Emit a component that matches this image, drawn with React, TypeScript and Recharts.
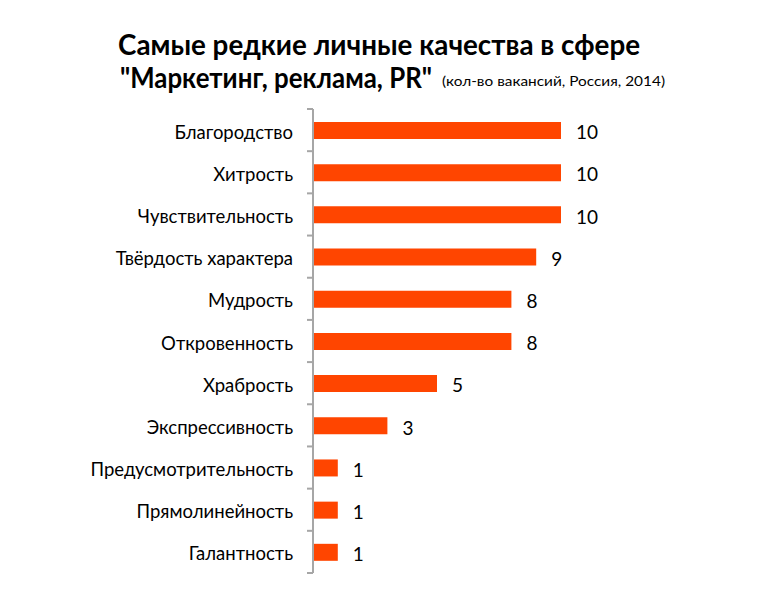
import { BarChart, Bar, XAxis, YAxis, LabelList } from 'recharts';

// categories, top to bottom
const qualities = [
  'Благородство',
  'Хитрость',
  'Чувствительность',
  'Твёрдость характера',
  'Мудрость',
  'Откровенность',
  'Храбрость',
  'Экспрессивность',
  'Предусмотрительность',
  'Прямолинейность',
  'Галантность',
];
const vacancies = [10, 10, 10, 9, 8, 8, 5, 3, 1, 1, 1];

const titleLine1 = 'Самые редкие личные качества в сфере';
const titleLine2 = '"Маркетинг, реклама, PR"';
const subtitle = '(кол-во вакансий, Россия, 2014)';

const data = qualities.map((name, i) => ({ name, value: vacancies[i] }));

const W = 761;
const H = 602;
const TOP = 109;
const BOTTOM = 29;
const FONT = 'Lato, "Open Sans", sans-serif';
const band = (H - TOP - BOTTOM) / qualities.length;

// category label plus the small tick at the band edges
const CategoryTick = ({ x, y, payload, index }: any) => (
  <g>
    <text x={x - 20} y={y} dy={8.5} textAnchor="end" fontSize={18.5} fill="#000" fontFamily={FONT}>
      {payload.value}
    </text>
    {index === 0 && (
      <line x1={x - 6} x2={x} y1={y - band / 2} y2={y - band / 2} stroke="#a6a6a6" strokeWidth={2} />
    )}
    <line x1={x - 6} x2={x} y1={y + band / 2} y2={y + band / 2} stroke="#a6a6a6" strokeWidth={2} />
  </g>
);

export default function App() {
  return (
    <div style={{ position: 'absolute', left: 0, top: 0, width: W, height: H, background: '#fff' }}>
      <svg width={W} height={100} style={{ position: 'absolute', left: 0, top: 0 }}>
        <text x={118} y={55} fontSize={28} fontWeight="bold" fontFamily={FONT} textLength={522} lengthAdjust="spacingAndGlyphs">
          {titleLine1}
        </text>
        <text x={120} y={88} fontSize={28} fontWeight="bold" fontFamily={FONT} textLength={312} lengthAdjust="spacingAndGlyphs">
          {titleLine2}
        </text>
        <text x={442} y={86} fontSize={14} fontFamily={FONT} textLength={223} lengthAdjust="spacingAndGlyphs">
          {subtitle}
        </text>
      </svg>
      <div style={{ position: 'absolute', left: 0, top: 0 }}>
        <BarChart
          width={W}
          height={H}
          data={data}
          layout="vertical"
          margin={{ top: TOP, right: 200, bottom: BOTTOM, left: 0 }}
        >
          <XAxis type="number" domain={[0, 10]} hide />
          <YAxis
            type="category"
            dataKey="name"
            width={313}
            tickLine={false}
            tickSize={0}
            tickMargin={0}
            axisLine={{ stroke: '#a6a6a6', strokeWidth: 2 }}
            tick={<CategoryTick />}
            interval={0}
          />
          <Bar dataKey="value" fill="#FF4500" barSize={17} isAnimationActive={false}>
            <LabelList
              dataKey="value"
              position="right"
              offset={15}
              dy={2}
              fill="#000"
              fontSize={19}
              fontFamily={FONT}
            />
          </Bar>
        </BarChart>
      </div>
    </div>
  );
}
